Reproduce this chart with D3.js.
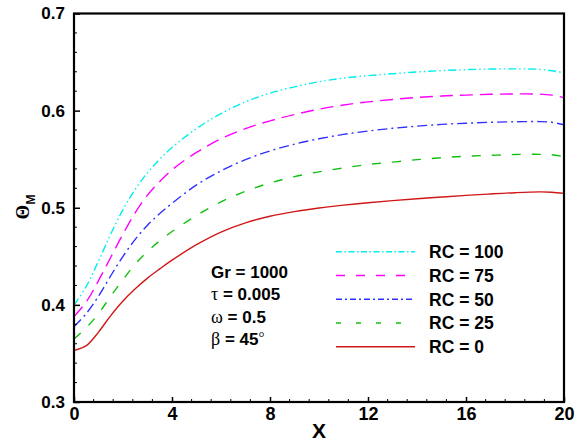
<!DOCTYPE html>
<html>
<head>
<meta charset="utf-8">
<script src="https://cdn.jsdelivr.net/npm/d3@7"></script>
<style>
  html, body { margin: 0; padding: 0; background: #fff; }
  svg { display: block; }
  .sans { font-family: "Liberation Sans", Arial, sans-serif; font-weight: bold; }
  .serif { font-family: "Liberation Serif", "Times New Roman", serif; font-weight: normal; }
</style>
</head>
<body>
<svg id="chart" width="582" height="441"></svg>
<script>
// ---- data ----
const xValues = [0, 0.5, 1, 1.5, 2, 2.5, 3, 3.5, 4, 5, 6, 7, 8, 9, 10, 11, 12, 13, 14, 15, 16, 17, 18, 19, 19.5, 20];
const rc0   = [0.353, 0.358, 0.372, 0.389, 0.404, 0.4165, 0.4275, 0.437, 0.446, 0.462, 0.475, 0.4845, 0.4912, 0.4960, 0.4997, 0.5027, 0.5052, 0.5073, 0.5092, 0.5110, 0.5127, 0.5142, 0.5155, 0.5163, 0.516, 0.5148];
const rc25  = [0.365, 0.3765, 0.391, 0.409, 0.426, 0.442, 0.455, 0.466, 0.4755, 0.492, 0.506, 0.517, 0.5255, 0.532, 0.537, 0.541, 0.5445, 0.547, 0.5495, 0.5515, 0.553, 0.554, 0.5548, 0.555, 0.5545, 0.5525];
const rc50  = [0.3775, 0.391, 0.409, 0.430, 0.450, 0.4675, 0.482, 0.494, 0.5045, 0.5235, 0.538, 0.5495, 0.5585, 0.5655, 0.571, 0.5755, 0.579, 0.5818, 0.584, 0.5858, 0.587, 0.588, 0.5885, 0.5887, 0.588, 0.5855];
const rc75  = [0.388, 0.403, 0.425, 0.449, 0.473, 0.495, 0.513, 0.527, 0.539, 0.557, 0.571, 0.5815, 0.5895, 0.596, 0.6015, 0.6058, 0.609, 0.6115, 0.6135, 0.615, 0.616, 0.6168, 0.6172, 0.617, 0.616, 0.6135];
const rc100 = [0.3998, 0.419, 0.445, 0.473, 0.498, 0.519, 0.536, 0.550, 0.562, 0.5815, 0.597, 0.609, 0.618, 0.6245, 0.6297, 0.6335, 0.636, 0.638, 0.6398, 0.6412, 0.6422, 0.6428, 0.643, 0.6425, 0.641, 0.639];
const seriesLabels = ["RC = 100", "RC = 75", "RC = 50", "RC = 25", "RC = 0"];
const xTicks = [0, 4, 8, 12, 16, 20];
const yTicks = [0.3, 0.4, 0.5, 0.6, 0.7];
const xTickLabels = ["0", "4", "8", "12", "16", "20"];
const yTickLabels = ["0.3", "0.4", "0.5", "0.6", "0.7"];
const annotations = ["Gr = 1000", "τ = 0.005", "ω = 0.5", "β = 45°"];

// ---- styles ----
const seriesData = [rc100, rc75, rc50, rc25, rc0];
const colors = ["#00eeee", "#ff00ff", "#3030ff", "#10c010", "#d01818"];
const dashes = ["8,3,1.5,3,1.5,3", "13,7", "10,4,2,4", "9,11", null];
const legendDashes = ["6,2.5,1.5,2.5", "9,11", "6,3,2,3", "5,15", null];

const svg = d3.select("#chart");
const pLeft = 74, pRight = 564, pTop = 13.5, pBottom = 402;

const x = d3.scaleLinear().domain([0, 20]).range([pLeft, pRight]);
const y = d3.scaleLinear().domain([0.3, 0.7]).range([pBottom, pTop]);

svg.append("defs").append("clipPath").attr("id", "clip")
  .append("rect").attr("x", pLeft).attr("y", pTop).attr("width", pRight - pLeft).attr("height", pBottom - pTop);

// curves
const line = d3.line().x(d => x(d[0])).y(d => y(d[1])).curve(d3.curveCatmullRom.alpha(0.5));
seriesData.forEach((vals, i) => {
  const pts = xValues.map((xv, j) => [xv, vals[j]]);
  svg.append("path").datum(pts)
    .attr("d", line)
    .attr("fill", "none")
    .attr("stroke", colors[i])
    .attr("stroke-width", 1.4)
    .attr("stroke-dasharray", dashes[i])
    .attr("clip-path", "url(#clip)");
});

// axes: ticks inward on left and bottom
const yAxis = d3.axisLeft(y).tickValues(yTicks).tickSize(-6).tickFormat((d, i) => yTickLabels[i]).tickPadding(9);
const gy = svg.append("g").attr("transform", `translate(${pLeft},0)`).call(yAxis);
gy.select(".domain").remove();
gy.selectAll("text").attr("class", "sans").style("font-size", "17px").attr("fill", "#000");
gy.selectAll("line").attr("stroke-width", 1.5);

const yMinor = d3.range(0.32, 0.7, 0.02).filter(v => Math.abs(v * 10 - Math.round(v * 10)) > 1e-6);
svg.append("g").selectAll("line").data(yMinor).join("line")
  .attr("x1", pLeft).attr("x2", pLeft + 3).attr("y1", d => y(d)).attr("y2", d => y(d))
  .attr("stroke", "#000").attr("stroke-width", 1);

const xAxis = d3.axisBottom(x).tickValues(xTicks).tickSize(-5).tickFormat((d, i) => xTickLabels[i]).tickPadding(5);
const gx = svg.append("g").attr("transform", `translate(0,${pBottom})`).call(xAxis);
gx.select(".domain").remove();
gx.selectAll("text").attr("class", "sans").style("font-size", "18px").attr("fill", "#000");
gx.selectAll("line").attr("stroke-width", 1.5);

const xMinor = d3.range(0.8, 20, 0.8).filter(v => Math.abs(v / 4 - Math.round(v / 4)) > 1e-6);
svg.append("g").selectAll("line").data(xMinor).join("line")
  .attr("x1", d => x(d)).attr("x2", d => x(d)).attr("y1", pBottom).attr("y2", pBottom - 3)
  .attr("stroke", "#000").attr("stroke-width", 1);

// frame
svg.append("rect").attr("x", pLeft).attr("y", pTop).attr("width", pRight - pLeft).attr("height", pBottom - pTop)
  .attr("fill", "none").attr("stroke", "#000").attr("stroke-width", 2.2);

// axis titles
svg.append("text").attr("class", "sans").attr("x", (pLeft + pRight) / 2).attr("y", 437.5)
  .attr("text-anchor", "middle").style("font-size", "21px").text("X");

const yt = svg.append("text").attr("transform", "translate(29,207) rotate(-90)").attr("text-anchor", "middle");
yt.append("tspan").attr("class", "serif").style("font-size", "19px").style("font-weight", "bold").text("Θ");
yt.append("tspan").attr("class", "sans").style("font-size", "12px").attr("dy", 6).text("M");

// legend
const legY0 = 251.7, legStep = 23.75;
seriesLabels.forEach((lab, i) => {
  const yy = legY0 + i * legStep;
  svg.append("line").attr("x1", 336).attr("x2", 415).attr("y1", yy).attr("y2", yy)
    .attr("stroke", colors[i]).attr("stroke-width", 1.5).attr("stroke-dasharray", legendDashes[i]);
  svg.append("text").attr("class", "sans").attr("x", 429).attr("y", yy + 6.3)
    .style("font-size", "17.5px").text(lab);
});

// annotations
const annY0 = 278, annStep = 22.4;
annotations.forEach((t, i) => {
  const tx = svg.append("text").attr("class", "sans").attr("x", 211).attr("y", annY0 + i * annStep)
    .style("font-size", "17px");
  const first = t[0];
  if (first === "τ" || first === "ω" || first === "β") {
    tx.append("tspan").attr("class", "serif").style("font-size", "18px").text(first);
    let rest = t.slice(1);
    if (rest.endsWith("°")) {
      tx.append("tspan").text(rest.slice(0, -1));
      tx.append("tspan").attr("class", "serif").style("font-size", "15px").attr("dy", -3).text("°");
    } else {
      tx.append("tspan").text(rest);
    }
  } else {
    tx.text(t);
  }
});
</script>
</body>
</html>
